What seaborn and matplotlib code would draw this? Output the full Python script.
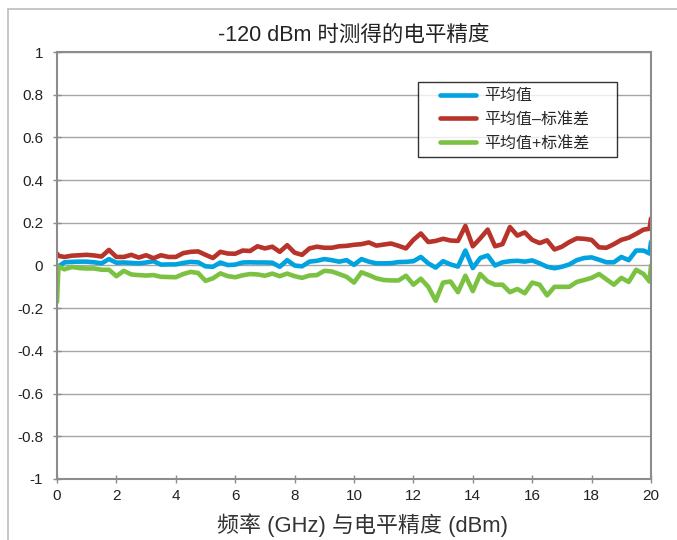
import numpy as np
import pandas as pd
import matplotlib
matplotlib.use("Agg")
import matplotlib.pyplot as plt
from matplotlib.lines import Line2D
from matplotlib.legend_handler import HandlerLine2D
import seaborn as sns

title = "-120 dBm 时测得的电平精度"
xlabel = "频率 (GHz) 与电平精度 (dBm)"
labels = ["平均值", "平均值–标准差", "平均值+标准差"]

freq = [0, 0.05, 0.25, 0.5, 0.75, 1.0, 1.25, 1.5, 1.75, 2.0, 2.25, 2.5, 2.75, 3.0, 3.25,
        3.5, 3.75, 4.0, 4.25, 4.5, 4.75, 5.0, 5.25, 5.5, 5.75, 6.0, 6.25, 6.5, 6.75, 7.0,
        7.25, 7.5, 7.75, 8.0, 8.25, 8.5, 8.75, 9.0, 9.25, 9.5, 9.75, 10.0, 10.25, 10.5,
        10.75, 11.0, 11.25, 11.5, 11.75, 12.0, 12.25, 12.5, 12.75, 13.0, 13.25, 13.5,
        13.75, 14.0, 14.25, 14.5, 14.75, 15.0, 15.25, 15.5, 15.75, 16.0, 16.25, 16.5,
        16.75, 17.0, 17.25, 17.5, 17.75, 18.0, 18.25, 18.5, 18.75, 19.0, 19.25, 19.5,
        19.75, 19.95, 20.0]

mean_vals = [0.0, -0.005, 0.015, 0.017, 0.018, 0.018, 0.015, 0.01, 0.03, 0.013, 0.014,
             0.012, 0.01, 0.014, 0.02, 0.004, 0.005, 0.005, 0.012, 0.017, 0.015, -0.004,
             -0.006, 0.014, 0.002, 0.004, 0.014, 0.015, 0.014, 0.014, 0.013, -0.006, 0.025,
             0.0, -0.004, 0.018, 0.022, 0.03, 0.025, 0.018, 0.025, 0.003, 0.03, 0.018, 0.01,
             0.01, 0.011, 0.016, 0.017, 0.02, 0.04, 0.01, -0.01, 0.02, 0.005, -0.005, 0.07,
             -0.012, 0.035, 0.047, 0.0, 0.015, 0.02, 0.022, 0.018, 0.024, 0.01, -0.006,
             -0.013, -0.006, 0.005, 0.025, 0.035, 0.038, 0.027, 0.015, 0.015, 0.04, 0.025,
             0.07, 0.07, 0.056, 0.11]

minus_vals = [0.056, 0.045, 0.04, 0.046, 0.048, 0.05, 0.047, 0.042, 0.073, 0.04, 0.04,
              0.05, 0.037, 0.048, 0.034, 0.048, 0.04, 0.04, 0.058, 0.064, 0.066, 0.05,
              0.035, 0.064, 0.056, 0.055, 0.07, 0.068, 0.09, 0.08, 0.088, 0.064, 0.095,
              0.06, 0.05, 0.08, 0.088, 0.083, 0.083, 0.09, 0.092, 0.097, 0.1, 0.108, 0.093,
              0.098, 0.103, 0.092, 0.08, 0.12, 0.15, 0.11, 0.115, 0.125, 0.117, 0.115,
              0.185, 0.09, 0.127, 0.168, 0.09, 0.1, 0.18, 0.14, 0.155, 0.12, 0.105, 0.118,
              0.075, 0.088, 0.11, 0.127, 0.125, 0.12, 0.085, 0.083, 0.1, 0.12, 0.13, 0.148,
              0.168, 0.172, 0.22]

plus_vals = [-0.17, -0.005, -0.018, -0.007, -0.012, -0.014, -0.014, -0.02, -0.02, -0.05,
             -0.025, -0.042, -0.045, -0.047, -0.045, -0.053, -0.054, -0.055, -0.04, -0.03,
             -0.035, -0.072, -0.06, -0.037, -0.05, -0.055, -0.046, -0.04, -0.042, -0.048,
             -0.038, -0.05, -0.038, -0.05, -0.058, -0.047, -0.045, -0.025, -0.028, -0.04,
             -0.053, -0.08, -0.032, -0.045, -0.06, -0.068, -0.07, -0.07, -0.048, -0.09,
             -0.062, -0.1, -0.165, -0.08, -0.075, -0.125, -0.048, -0.12, -0.04, -0.075,
             -0.09, -0.09, -0.125, -0.11, -0.13, -0.08, -0.09, -0.14, -0.1, -0.1, -0.1,
             -0.077, -0.068, -0.058, -0.04, -0.065, -0.09, -0.058, -0.077, -0.02, -0.04,
             -0.075, 0.0]

x_ticks = [0, 2, 4, 6, 8, 10, 12, 14, 16, 18, 20]
y_ticks = [-1, -0.8, -0.6, -0.4, -0.2, 0, 0.2, 0.4, 0.6, 0.8, 1]
y_tick_labels = ["-1", "-0.8", "-0.6", "-0.4", "-0.2", "0", "0.2", "0.4", "0.6", "0.8", "1"]

colors = ["#00A3E0", "#B8332A", "#7CC242"]

df = pd.concat([
    pd.DataFrame({"freq": freq, "value": vals, "series": lab})
    for vals, lab in zip([mean_vals, minus_vals, plus_vals], labels)
], ignore_index=True)

sns.set_theme(style="white")
plt.rcParams["font.family"] = ["Liberation Sans", "Noto Sans CJK SC", "DejaVu Sans"]

fig = plt.figure(figsize=(6.77, 5.40), dpi=100)
ax = fig.add_axes([0.0842, 0.1130, 0.8774, 0.7907])

sns.lineplot(data=df, x="freq", y="value", hue="series", hue_order=labels,
             palette=colors, linewidth=3.3, sort=False, ax=ax, legend=True)
for ln in ax.get_lines():
    ln.set_solid_joinstyle("round")

ax.set_xlim(0, 20)
ax.set_ylim(-1, 1)
ax.set_xticks(x_ticks)
ax.set_xticklabels([str(t) for t in x_ticks], fontsize=11, color="#222222")
ax.set_yticks(y_ticks)
ax.set_yticklabels(y_tick_labels, fontsize=11, color="#222222")
ax.grid(axis="y", color="#A6A6A6", linewidth=1.0)
ax.grid(axis="x", visible=False)
ax.set_axisbelow(True)
for s in ax.spines.values():
    s.set_color("#8C8C8C")
    s.set_linewidth(1.5)
ax.tick_params(axis="x", which="major", direction="inout", length=6, width=1.0,
               color="#8C8C8C", pad=4, bottom=True)
ax.tick_params(axis="y", which="major", direction="inout", length=6, width=1.0,
               color="#8C8C8C", pad=7, left=True)

ax.set_xlabel(xlabel, fontsize=15.8, color="#333333")
ax.xaxis.set_label_coords(0.515, -0.08)
ax.set_ylabel("")
ax.set_title(title, fontsize=15.5, color="#222222", pad=8)


class OffsetLineHandler(HandlerLine2D):
    def create_artists(self, legend, orig_handle, xdescent, ydescent, width, height,
                       fontsize, trans):
        artists = super().create_artists(legend, orig_handle, xdescent, ydescent, width,
                                         height, fontsize, trans)
        for a in artists:
            xd = np.asarray(a.get_xdata(), dtype=float)
            if len(xd) >= 2:
                xd = xd.copy()
                xd[0] = xd[0] + 11.0
                a.set_xdata(xd)
        return artists


handles, _ = ax.get_legend_handles_labels()
leg = ax.legend(handles, labels, loc="upper left",
                bbox_to_anchor=(0.608, 0.5, 0.335, 0.43), mode="expand",
                borderaxespad=0, fontsize=11.5, frameon=True, fancybox=False,
                handlelength=3.2, handletextpad=0.56, labelspacing=0.55, borderpad=0.4,
                handler_map={Line2D: OffsetLineHandler()})
leg.get_frame().set_edgecolor("black")
leg.get_frame().set_linewidth(1.0)
for h in leg.get_lines():
    h.set_linewidth(3.3)

fig.add_artist(Line2D([7.5 / 677, 7.5 / 677], [0, 1 - 8.5 / 540],
                      transform=fig.transFigure, color="#BDBDBD", linewidth=1.2))
fig.add_artist(Line2D([7.5 / 677, 1], [1 - 8.5 / 540, 1 - 8.5 / 540],
                      transform=fig.transFigure, color="#BDBDBD", linewidth=1.2))

fig.savefig("out.png", dpi=100)
